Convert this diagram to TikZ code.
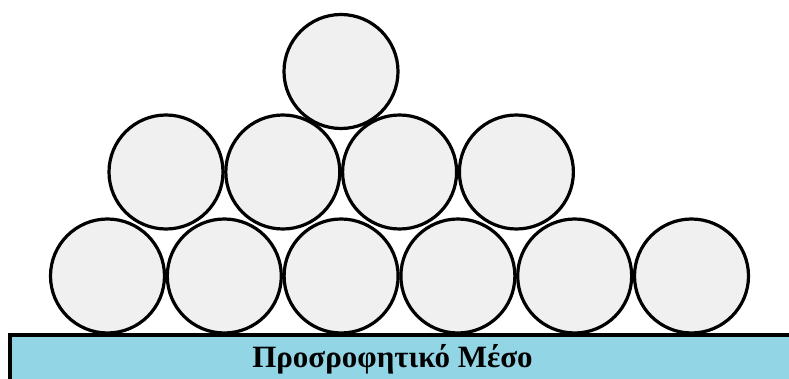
\documentclass[tikz,border=0pt]{standalone}
\usepackage{fontspec}
\setmainfont{Liberation Serif}
\definecolor{basecol}{RGB}{146,214,230}
\definecolor{ballcol}{RGB}{240,240,240}
\tikzset{ball/.style={circle, draw=black, line width=3.2pt, fill=ballcol, minimum size=114pt, inner sep=0pt}}
\begin{document}
\begin{tikzpicture}[x=1pt,y=-1pt]
\useasboundingbox (0,0) rectangle (789,379);
\fill[white] (0,0) rectangle (789,379);
\draw[line width=3.2pt, fill=basecol] (10,335) rectangle (800,390);
\node[font=\bfseries\fontsize{31}{33}\selectfont, anchor=base] (label) at (392.5,367.5) {Προσροφητικό Μέσο};
\foreach \i in {0,...,5} {
  \node[ball] (b\i) at (107.5+116.8*\i,276) {};
}
\foreach \i in {0,...,3} {
  \node[ball] (m\i) at (166+116.8*\i,172) {};
}
\node[ball] (t0) at (341,71.5) {};
\end{tikzpicture}
\end{document}
